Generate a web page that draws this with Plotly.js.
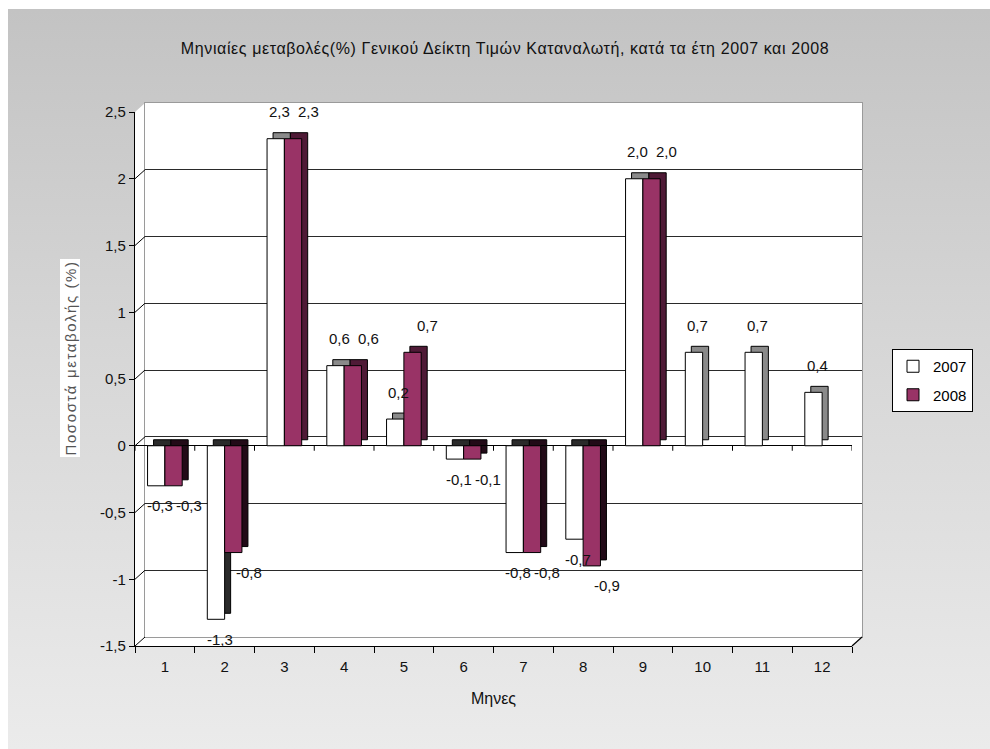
<!DOCTYPE html>
<html>
<head>
<meta charset="utf-8">
<script src="https://cdn.plot.ly/plotly-3.0.1.min.js"></script>
<style>
  html, body { margin: 0; padding: 0; background: #ffffff; }
  #frame { position: relative; width: 990px; height: 749px; background: #ffffff; overflow: hidden; }
  #shade { position: absolute; left: 8px; top: 9px; width: 982px; height: 740px;
           background: linear-gradient(to bottom, #c3c3c3 0%, #d6d6d6 45%, #ebebeb 100%); }
  #chart { position: absolute; left: 0; top: 0; width: 990px; height: 749px; }
</style>
</head>
<body>
<div id="frame">
  <div id="shade"></div>
  <div id="chart"></div>
</div>
<script>
// Monthly CPI change (%) for 2007 and 2008
const months = ['1', '2', '3', '4', '5', '6', '7', '8', '9', '10', '11', '12'];
const pct2007 = [-0.3, -1.3, 2.3, 0.6, 0.2, -0.1, -0.8, -0.7, 2.0, 0.7, 0.7, 0.4];
const pct2008 = [-0.3, -0.8, 2.3, 0.6, 0.7, -0.1, -0.8, -0.9, 2.0, null, null, null];
const yTicks = [-1.5, -1, -0.5, 0, 0.5, 1, 1.5, 2, 2.5];

const chartTitle = 'Μηνιαίες μεταβολές(%) Γενικού Δείκτη Τιμών Καταναλωτή, κατά τα έτη 2007 και 2008';
const xTitle = 'Μηνες';
const yTitle = 'Ποσοστά μεταβολής (%)';

// ---- geometry of the pseudo-3D box (pixels) ----
const W = 990, H = 749;
const FRONT = { left: 135, right: 852, top: 112, bottom: 646 };
const WALL = { dx: 10, dy: 9 };    // back wall offset
const DEPTH = { dx: 6, dy: 6 };    // bar depth offset
const px = v => v / W;
const py = v => (H - v) / H;
const domX = d => [px(FRONT.left + d), px(FRONT.right + d)];
const domY = d => [py(FRONT.bottom - d), py(FRONT.top - d)];
const yRange = [-1.5, 2.5];
const xRange = [-0.5, 11.5];

const FONT = 'Liberation Sans, Arial, sans-serif';
const PLUM = '#993366';
const spaced = (s, sp) => `<span style="letter-spacing:${sp}px">${s}</span>`;

const fmt = v => v.toFixed(1).replace('.', ',');
const tickFmt = v => String(v).replace('.', ',');

// depth faces: darker tone, near-black cap for bars hanging below zero
const sideColors = (vals, up, down) => vals.map(v => (v !== null && v < 0) ? down : up);

// ---- traces ----
const sideBar = (vals, colors) => ({
  type: 'bar', x: months, y: vals, xaxis: 'x2', yaxis: 'y2',
  marker: { color: colors, line: { color: '#000000', width: 1 } },
  showlegend: false, hoverinfo: 'skip'
});
const frontBar = (vals, name, color) => ({
  type: 'bar', x: months, y: vals, xaxis: 'x3', yaxis: 'y3', name: name, legendgroup: name,
  marker: { color: color, line: { color: '#000000', width: 1 } }
});

const data = [
  // empty trace so the back-wall subplot (gridlines) is built
  { type: 'scatter', mode: 'markers', x: [months[0]], y: [null], xaxis: 'x', yaxis: 'y',
    showlegend: false, hoverinfo: 'skip' },
  sideBar(pct2007, sideColors(pct2007, '#8a8a8a', '#2a2a2a')),
  sideBar(pct2008, sideColors(pct2008, '#4f1a36', '#220a17')),
  frontBar(pct2007, '2007', '#ffffff'),
  frontBar(pct2008, '2008', PLUM)
];

// ---- value labels ----
const annotations = [];
function addLabels(vals, dx) {
  vals.forEach((v, i) => {
    if (v === null) return;
    annotations.push({
      x: i, y: v, xref: 'x3', yref: 'y3', text: fmt(v), showarrow: false,
      xshift: dx, yshift: v >= 0 ? 27 : -20,
      font: { family: FONT, size: 15, color: '#111111' }
    });
  });
}
addLabels(pct2007, -5);
addLabels(pct2008, 24);

annotations.push({
  xref: 'paper', yref: 'paper', x: px(60), y: py(358), text: spaced(yTitle, 1.6), textangle: -90,
  showarrow: false, bgcolor: '#ffffff', borderpad: 1,
  font: { family: FONT, size: 15, color: '#555555' }
});

// ---- box drawing: white walls, wall edges, zero-line ticks ----
const shapes = [];
const L = FRONT.left, R = FRONT.right, T = FRONT.top, B = FRONT.bottom;
shapes.push({
  type: 'path', xref: 'paper', yref: 'paper', layer: 'below',
  path: `M${px(L)},${py(B)} L${px(L)},${py(T)} L${px(L + WALL.dx)},${py(T - WALL.dy)} ` +
        `L${px(R + WALL.dx)},${py(T - WALL.dy)} L${px(R + WALL.dx)},${py(B - WALL.dy)} L${px(R)},${py(B)} Z`,
  fillcolor: '#ffffff', line: { width: 0 }
});
yTicks.forEach(v => {
  shapes.push({
    type: 'line', xref: 'paper', yref: 'y3', ysizemode: 'pixel', yanchor: v,
    x0: px(L), x1: px(L + WALL.dx), y0: 0, y1: WALL.dy,
    line: { color: '#000000', width: 1 }
  });
});
shapes.push({
  type: 'line', xref: 'paper', yref: 'paper',
  x0: px(R), y0: py(B), x1: px(R + WALL.dx), y1: py(B - WALL.dy),
  line: { color: '#000000', width: 1.2 }
});
for (let k = 0; k <= months.length; k++) {
  shapes.push({
    type: 'line', xref: 'x3', yref: 'y3', ysizemode: 'pixel', yanchor: 0,
    x0: k - 0.5, x1: k - 0.5, y0: 0, y1: -5,
    line: { color: '#000000', width: 1 }
  });
}

const layout = {
  width: W, height: H,
  margin: { l: 0, r: 0, t: 0, b: 0, pad: 0 },
  paper_bgcolor: 'rgba(0,0,0,0)',
  plot_bgcolor: 'rgba(0,0,0,0)',
  font: { family: FONT, size: 15, color: '#000000' },
  title: {
    text: spaced(chartTitle, 0.6), x: px(505), xanchor: 'center', y: 1 - 48 / H, yanchor: 'middle',
    font: { family: FONT, size: 16, color: '#111111' }
  },
  barmode: 'group', bargap: 0.42, bargroupgap: 0,
  showlegend: true,
  legend: {
    x: px(892), y: py(349), xanchor: 'left', yanchor: 'top',
    bgcolor: '#ffffff', bordercolor: '#000000', borderwidth: 1,
    traceorder: 'grouped', tracegroupgap: 6, itemwidth: 30,
    font: { family: FONT, size: 15, color: '#000000' }
  },
  // back wall with gridlines
  xaxis: {
    domain: domX(WALL.dx), anchor: 'y', type: 'category', range: xRange,
    showline: true, mirror: true, linecolor: '#9a9a9a', linewidth: 1,
    showgrid: false, showticklabels: false, ticks: '', zeroline: false, fixedrange: true
  },
  yaxis: {
    domain: domY(WALL.dy), anchor: 'x', range: yRange,
    tickvals: yTicks, showticklabels: false, ticks: '',
    showline: true, mirror: true, linecolor: '#9a9a9a', linewidth: 1,
    showgrid: true, gridcolor: '#2a2a2a', gridwidth: 1, zeroline: false, fixedrange: true
  },
  // bar depth faces
  xaxis2: { domain: domX(DEPTH.dx), anchor: 'y2', type: 'category', range: xRange, visible: false, fixedrange: true },
  yaxis2: { domain: domY(DEPTH.dy), anchor: 'x2', range: yRange, visible: false, fixedrange: true },
  // front faces and the labelled axes
  xaxis3: {
    domain: domX(0), anchor: 'y3', type: 'category', range: xRange,
    showline: true, linecolor: '#000000', linewidth: 1.2,
    ticks: 'outside', tickson: 'boundaries', ticklen: 6, tickcolor: '#000000', tickwidth: 1,
    ticklabelstandoff: 7,
    showgrid: false, zeroline: false,
    tickfont: { family: FONT, size: 15, color: '#111111' },
    title: { text: xTitle, standoff: 18, font: { family: FONT, size: 16, color: '#111111' } },
    fixedrange: true
  },
  yaxis3: {
    domain: domY(0), anchor: 'x3', range: yRange,
    tickvals: yTicks, ticktext: yTicks.map(tickFmt),
    showline: true, linecolor: '#000000', linewidth: 1.2,
    ticks: 'outside', ticklen: 5, tickcolor: '#000000',
    showgrid: false, zeroline: true, zerolinecolor: '#000000', zerolinewidth: 1.2,
    tickfont: { family: FONT, size: 15, color: '#111111' },
    fixedrange: true
  },
  annotations: annotations,
  shapes: shapes
};

Plotly.newPlot('chart', data, layout, { displayModeBar: false, staticPlot: true });
</script>
</body>
</html>
